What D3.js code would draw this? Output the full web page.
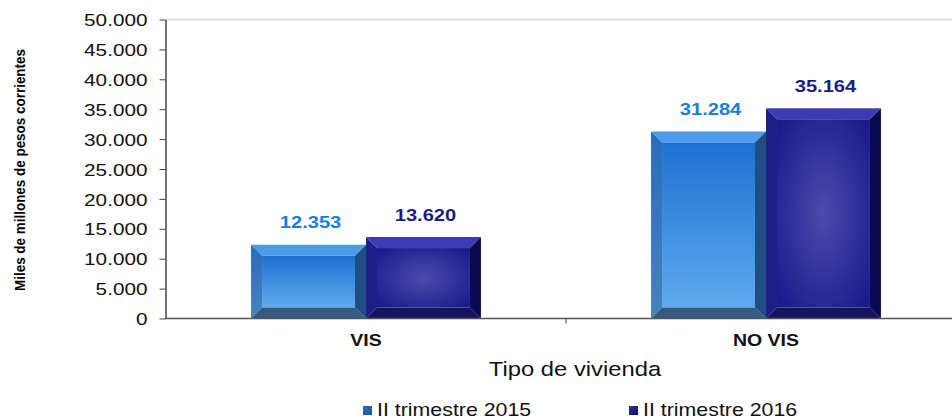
<!DOCTYPE html>
<html>
<head>
<meta charset="utf-8">
<script src="https://cdn.jsdelivr.net/npm/d3@7"></script>
<style>
  body { margin: 0; background: #fff; }
  text { font-family: "Liberation Sans", Arial, sans-serif; }
</style>
</head>
<body>
<div class="chart"></div>
<script>
// data
var categories = ["VIS", "NO VIS"];
var seriesNames = ["II trimestre 2015", "II trimestre 2016"];
var values2015 = [12353, 31284];
var values2016 = [13620, 35164];
var yTicks = [0, 5000, 10000, 15000, 20000, 25000, 30000, 35000, 40000, 45000, 50000];

var svgWidth = 952, svgHeight = 419;
var K = 1.22; // horizontal text stretch seen in the picture

var svg = d3.select(".chart").append("svg")
  .attr("width", svgWidth)
  .attr("height", svgHeight);

var fmt = d3.formatLocale({decimal: ",", thousands: ".", grouping: [3], currency: ["$", ""]}).format(",d");

function stretch(sel, k) {
  sel.each(function() {
    var t = d3.select(this);
    var x = +t.attr("x") || 0, y = +t.attr("y") || 0;
    t.attr("x", 0).attr("y", 0).attr("transform", `translate(${x},${y}) scale(${k},1)`);
  });
}

var x0 = d3.scaleBand().domain(categories).range([166, 966]).padding(0);
var x1 = d3.scaleBand().domain(seriesNames).range([0, x0.bandwidth()]).paddingInner(0).paddingOuter(0.74);
var y = d3.scaleLinear().domain([0, 50000]).range([318.5, 19.5]);

// gradients
var defs = svg.append("defs");
var g1 = defs.append("linearGradient").attr("id", "face15").attr("x1", 0).attr("y1", 0).attr("x2", 0).attr("y2", 1);
g1.append("stop").attr("offset", "0%").attr("stop-color", "#1f70d2");
g1.append("stop").attr("offset", "100%").attr("stop-color", "#5eaaee");
var g2 = defs.append("radialGradient").attr("id", "face16").attr("cx", "50%").attr("cy", "50%").attr("r", "65%");
g2.append("stop").attr("offset", "0%").attr("stop-color", "#4c4cab");
g2.append("stop").attr("offset", "100%").attr("stop-color", "#1b1b8e");
var gl = defs.append("linearGradient").attr("id", "left15").attr("x1", 0).attr("y1", 0).attr("x2", 0).attr("y2", 1);
gl.append("stop").attr("offset", "0%").attr("stop-color", "#2a6cbc");
gl.append("stop").attr("offset", "100%").attr("stop-color", "#4683bd");
var lm1 = defs.append("linearGradient").attr("id", "leg15").attr("x1", 0).attr("y1", 0).attr("x2", 1).attr("y2", 1);
lm1.append("stop").attr("offset", "0%").attr("stop-color", "#1e6ccc");
lm1.append("stop").attr("offset", "100%").attr("stop-color", "#2c5a8a");
var lm2 = defs.append("linearGradient").attr("id", "leg16").attr("x1", 0).attr("y1", 0).attr("x2", 1).attr("y2", 1);
lm2.append("stop").attr("offset", "0%").attr("stop-color", "#3434a8");
lm2.append("stop").attr("offset", "100%").attr("stop-color", "#0c0c55");

var styles = {
  "II trimestre 2015": {face: "url(#face15)", top: "#4d9be8", left: "url(#left15)", right: "#1f4e84", bottom: "#35597f", label: "#1a7dd8"},
  "II trimestre 2016": {face: "url(#face16)", top: "#3b3bb4", left: "#1f1f88", right: "#0a0a4c", bottom: "#15155e", label: "#1c1c80"}
};

// top gridline
svg.append("line")
  .attr("x1", 165).attr("x2", svgWidth)
  .attr("y1", y(50000)).attr("y2", y(50000))
  .attr("stroke", "#dcdcdc").attr("stroke-width", 2);

// bars
var rows = categories.map((c, i) => ({cat: c, vals: [
  {s: seriesNames[0], v: values2015[i]},
  {s: seriesNames[1], v: values2016[i]}
]}));
var b = 11;
rows.forEach(row => {
  row.vals.forEach(d => {
    var st = styles[d.s];
    var x = x0(row.cat) + x1(d.s), w = x1.bandwidth();
    var yt = y(d.v), h = y(0) - y(d.v);
    var g = svg.append("g");
    g.append("rect").attr("x", x + b).attr("y", yt + b).attr("width", w - 2 * b).attr("height", h - 2 * b).attr("fill", st.face);
    var poly = pts => pts.map(p => p.join(",")).join(" ");
    g.append("polygon").attr("points", poly([[x, yt], [x + w, yt], [x + w - b, yt + b], [x + b, yt + b]])).attr("fill", st.top);
    g.append("polygon").attr("points", poly([[x, yt], [x + b, yt + b], [x + b, yt + h - b], [x, yt + h]])).attr("fill", st.left);
    g.append("polygon").attr("points", poly([[x + w, yt], [x + w, yt + h], [x + w - b, yt + h - b], [x + w - b, yt + b]])).attr("fill", st.right);
    g.append("polygon").attr("points", poly([[x, yt + h], [x + w, yt + h], [x + w - b, yt + h - b], [x + b, yt + h - b]])).attr("fill", st.bottom);
    var lbl = svg.append("text")
      .attr("x", x + w / 2 + 2)
      .attr("y", yt - 16.5)
      .attr("text-anchor", "middle")
      .attr("font-size", 16.5)
      .attr("font-weight", "bold")
      .attr("fill", st.label)
      .text(fmt(d.v));
    stretch(lbl, K);
  });
});

// y axis
var yAxis = svg.append("g")
  .attr("transform", "translate(165.5,0)")
  .call(d3.axisLeft(y).tickValues(yTicks).tickFormat(fmt).tickSize(6).tickSizeOuter(0).tickPadding(12));
yAxis.select(".domain").attr("stroke", "#444").attr("stroke-width", 1.5);
yAxis.selectAll(".tick line").attr("stroke", "#444");
yAxis.selectAll(".tick text")
  .attr("font-size", 17)
  .attr("font-family", "Liberation Sans, Arial, sans-serif")
  .attr("fill", "#111")
  .attr("dy", "0.36em");
stretch(yAxis.selectAll(".tick text"), K);

// x axis
svg.append("line")
  .attr("x1", 165).attr("x2", 966)
  .attr("y1", y(0)).attr("y2", y(0))
  .attr("stroke", "#555").attr("stroke-width", 1.6);
svg.selectAll(".xtick")
  .data(categories.slice(1))
  .enter().append("line")
  .attr("class", "xtick")
  .attr("x1", d => x0(d)).attr("x2", d => x0(d))
  .attr("y1", y(0)).attr("y2", y(0) + 5)
  .attr("stroke", "#444");
var catLbl = svg.selectAll(".cat")
  .data(categories)
  .enter().append("text")
  .attr("class", "cat")
  .attr("x", d => x0(d) + x0.bandwidth() / 2)
  .attr("y", 345.5)
  .attr("text-anchor", "middle")
  .attr("font-size", 16)
  .attr("font-weight", "bold")
  .attr("fill", "#111")
  .text(d => d);
stretch(catLbl, K);

// axis titles
var xt = svg.append("text")
  .attr("x", 575).attr("y", 376)
  .attr("text-anchor", "middle")
  .attr("font-size", 19.5)
  .attr("fill", "#111")
  .text("Tipo de vivienda");
stretch(xt, K);

svg.append("text")
  .attr("transform", "translate(25,170) rotate(-90)")
  .attr("text-anchor", "middle")
  .attr("font-family", "Liberation Sans Narrow, Arial Narrow, Liberation Sans, sans-serif")
  .attr("font-size", 14.5)
  .attr("font-weight", "bold")
  .attr("fill", "#000")
  .attr("textLength", 242)
  .attr("lengthAdjust", "spacingAndGlyphs")
  .text("Miles de millones de pesos corrientes");

// legend
var legX = [363, 629];
seriesNames.forEach((s, i) => {
  svg.append("rect")
    .attr("x", legX[i]).attr("y", 406)
    .attr("width", 9).attr("height", 9)
    .attr("fill", i === 0 ? "url(#leg15)" : "url(#leg16)");
  var t = svg.append("text")
    .attr("x", legX[i] + 14).attr("y", 416)
    .attr("font-size", 17.5)
    .attr("fill", "#111")
    .text(s);
  stretch(t, K);
});
</script>
</body>
</html>
